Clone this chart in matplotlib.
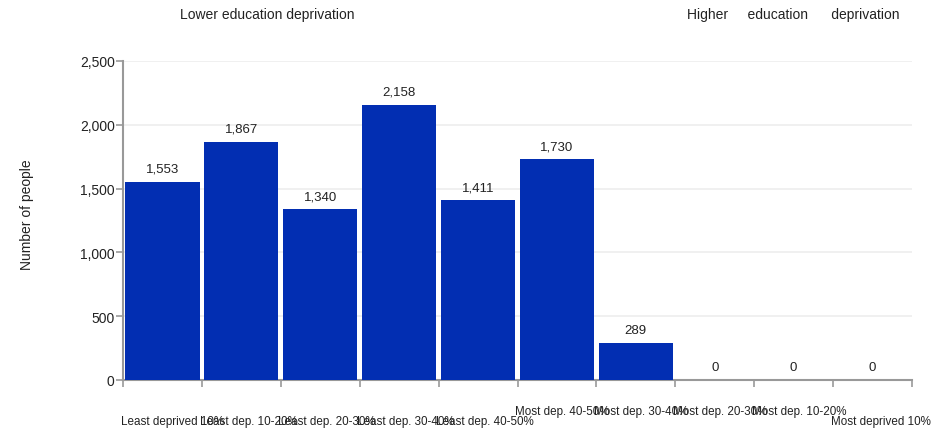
import numpy as np
import matplotlib
matplotlib.use('Agg')
import matplotlib.pyplot as plt
from matplotlib.transforms import blended_transform_factory

categories = ['Least deprived 10%', 'Least dep. 10-20%', 'Least dep. 20-30%',
              'Least dep. 30-40%', 'Least dep. 40-50%', 'Most dep. 40-50%',
              'Most dep. 30-40%', 'Most dep. 20-30%', 'Most dep. 10-20%',
              'Most deprived 10%']
values = [1553, 1867, 1340, 2158, 1411, 1730, 289, 0, 0, 0]
yticks = [0, 500, 1000, 1500, 2000, 2500]
# which tick labels sit a bit higher (the way the original overlaps them)
raised = [False, False, False, False, False, True, True, True, True, False]

plt.rcParams['font.family'] = ['Liberation Sans', 'DejaVu Sans']

fig = plt.figure(figsize=(9.48, 4.31), dpi=100)
ax = fig.add_axes([123/948, 1-381/431, (912-123)/948, (381-62)/431])

x = np.arange(len(categories))
ax.bar(x, values, width=0.94, color='#022EB2', zorder=3)

for xi, v in zip(x, values):
    ax.annotate(f'{v:,}', (xi, v), xytext=(0, 5), textcoords='offset points',
                ha='center', va='bottom', fontsize=9.5, color='#222222')

ax.set_xlim(-0.5, len(categories) - 0.5)
ax.set_ylim(0, 2500)
ax.set_yticks(yticks)
ax.set_yticklabels([f'{t:,}' for t in yticks], fontsize=10, color='#222222')
ax.set_xticks(np.arange(len(categories) + 1) - 0.5)
ax.set_xticklabels([])
ax.tick_params(axis='x', length=5, width=1.2, color='#999999')
ax.tick_params(axis='y', length=5, width=1.2, color='#999999', pad=1)
ax.yaxis.grid(True, color='#eeeeee', linewidth=1.2, zorder=0)

for s in ['top', 'right']:
    ax.spines[s].set_visible(False)
for s in ['left', 'bottom']:
    ax.spines[s].set_color('#999999')
    ax.spines[s].set_linewidth(1.5)

# tick labels, left aligned at each slot edge
trans = blended_transform_factory(ax.transData, fig.transFigure)
for i, (lab, up) in enumerate(zip(categories, raised)):
    ax.text(i - 0.53, 1-412/431 if up else 1-422/431, lab, transform=trans,
            ha='left', va='center', fontsize=8.4, color='#222222', clip_on=False)

fig.text(27/948, 1-215/431, 'Number of people', rotation=90, ha='center',
         va='center', fontsize=10, color='#222222')

fig.text(267/948, 1-15/431, 'Lower education deprivation', ha='center',
         va='center', fontsize=10, color='#222222')
fig.text(793/948, 1-15/431, 'Higher     education      deprivation', ha='center',
         va='center', fontsize=10, color='#222222')

fig.savefig('out.png', dpi=100)
